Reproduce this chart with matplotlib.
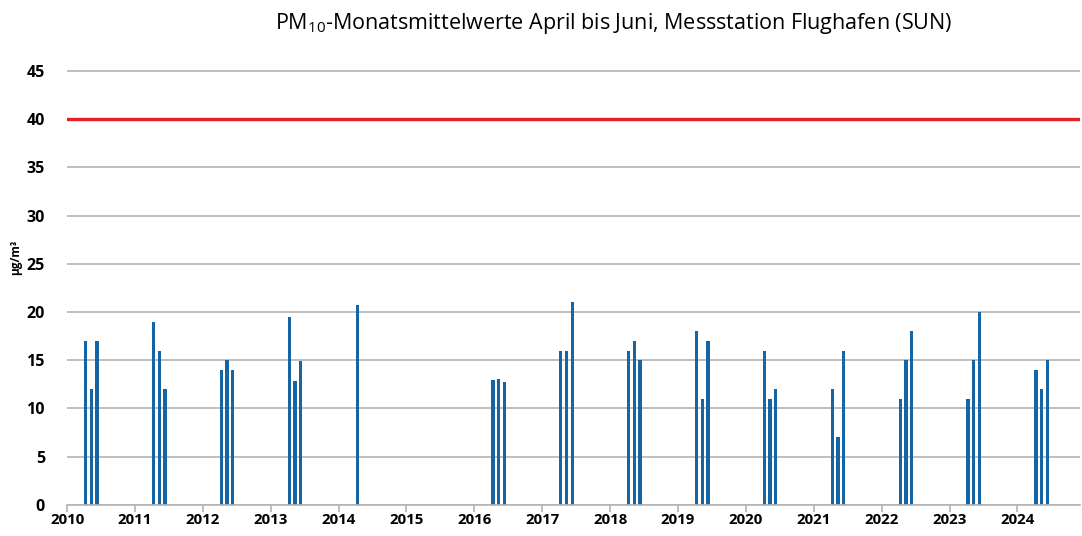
import numpy as np
import matplotlib.pyplot as plt

plt.rcParams['font.family'] = ['Open Sans', 'DejaVu Sans']
plt.rcParams['mathtext.fontset'] = 'custom'
plt.rcParams['mathtext.rm'] = 'Open Sans'
plt.rcParams['mathtext.default'] = 'regular'

years = [2010, 2011, 2012, 2013, 2014, 2015, 2016, 2017, 2018, 2019, 2020, 2021, 2022, 2023, 2024]
april = [17, 19, 14, 19.5, 20.7, np.nan, 13.0, 16, 16, 18, 16, 12, 11, 11, 14]
may = [12, 16, 15, 12.8, np.nan, np.nan, 13.1, 16, 17, 11, 11, 7, 15, 15, 12]
june = [17, 12, 14, 14.9, np.nan, np.nan, 12.7, 21, 15, 17, 12, 16, 18, 20, 15]
limit = 40

fig = plt.figure(figsize=(10.82, 5.36), dpi=100)
ax = fig.add_axes([0.062, 0.058, 0.936, 0.815])

blue = '#1565a5'
for m, vals in zip([4, 5, 6], [april, may, june]):
    x = np.array(years) + (m - 1) / 12
    ax.bar(x, vals, width=0.048, align='edge', color=blue, zorder=3)

ax.axhline(limit, color='#e3202b', lw=2.4, zorder=4)

ax.set_ylim(0, 45.3)
ax.set_xlim(2010, 2024.92)
ax.set_yticks(range(0, 46, 5))
ax.set_xticks(years)
ax.yaxis.grid(True, color='#b4b4b4', lw=1.2, zorder=0)
for s in ['top', 'right', 'left']:
    ax.spines[s].set_visible(False)
ax.spines['bottom'].set_color('#b4b4b4')
ax.spines['bottom'].set_linewidth(1.2)
ax.spines['bottom'].set_zorder(5)
ax.tick_params(axis='y', length=0, pad=16, labelsize=11.5)
ax.tick_params(axis='x', length=5, color='#b4b4b4', width=1.2, labelsize=10.8, pad=1)
for lab in ax.get_xticklabels() + ax.get_yticklabels():
    lab.set_fontweight('bold')

fig.text(0.014, 0.52, 'µg/m³', rotation=90, fontsize=8.5, fontweight='bold', va='center', ha='center')
fig.text(0.567, 0.957, 'PM$_{10}$-Monatsmittelwerte April bis Juni, Messstation Flughafen (SUN)',
         fontsize=15.5, ha='center', va='center')

fig.savefig('out.png', dpi=100)
